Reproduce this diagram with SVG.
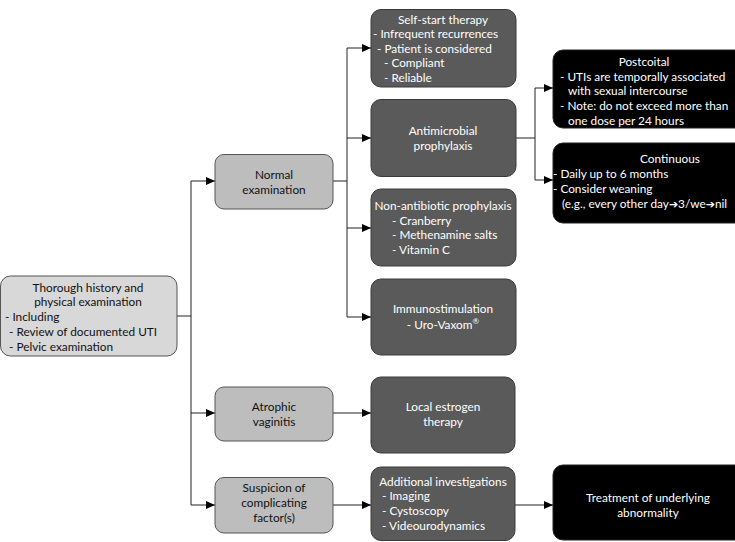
<svg xmlns="http://www.w3.org/2000/svg" width="735" height="542" viewBox="0 0 735 542">
<defs>
<marker id="ah" markerUnits="userSpaceOnUse" markerWidth="10" markerHeight="10" refX="9" refY="5" orient="auto">
<path d="M0,1 L9,5 L0,9 Z" fill="#000"/>
</marker>
<style>
text{font-family:Lato,"Open Sans","Liberation Sans",sans-serif;font-size:11.8px}
.c{text-anchor:middle}
.dk{fill:#fff}
.lt{fill:#111}
.bl{fill:#d8d8d8;stroke:#555;stroke-width:1}
.bm{fill:#bdbdbd;stroke:#555;stroke-width:1}
.bd{fill:#5a5a5a;stroke:#3a3a3a;stroke-width:1}
.bk{fill:#000;stroke:#222;stroke-width:1}
.ln{fill:none;stroke:#222;stroke-width:1}
</style>
</defs>
<g id="connectors">
<path class="ln" d="M177 316 H191 M191 181 V505"/>
<path class="ln" d="M191 181 H215" marker-end="url(#ah)"/>
<path class="ln" d="M191 413 H215" marker-end="url(#ah)"/>
<path class="ln" d="M191 505 H215" marker-end="url(#ah)"/>
<path class="ln" d="M333 181 H347 M347 48 V317"/>
<path class="ln" d="M347 48 H371" marker-end="url(#ah)"/>
<path class="ln" d="M347 138 H371" marker-end="url(#ah)"/>
<path class="ln" d="M347 228 H371" marker-end="url(#ah)"/>
<path class="ln" d="M347 317 H371" marker-end="url(#ah)"/>
<path class="ln" d="M516 138 H535 M535 88 V180"/>
<path class="ln" d="M535 88 H553" marker-end="url(#ah)"/>
<path class="ln" d="M535 180 H553" marker-end="url(#ah)"/>
<path class="ln" d="M333 413 H371" marker-end="url(#ah)"/>
<path class="ln" d="M333 505 H371" marker-end="url(#ah)"/>
<path class="ln" d="M515 505 H553" marker-end="url(#ah)"/>
</g>
<g id="root">
<rect class="bl" x="0.5" y="276" width="176.5" height="80" rx="10"/>
<text class="lt c" x="88" y="292">Thorough history and</text>
<text class="lt c" x="88" y="306">physical examination</text>
<text class="lt" x="5" y="321">- Including</text>
<text class="lt" x="9" y="336">- Review of documented UTI</text>
<text class="lt" x="9" y="351">- Pelvic examination</text>
</g>
<g id="normal">
<rect class="bm" x="215" y="154.5" width="118" height="54.5" rx="9"/>
<text class="lt c" x="274" y="179">Normal</text>
<text class="lt c" x="274" y="194">examination</text>
</g>
<g id="atrophic">
<rect class="bm" x="215" y="387" width="118" height="54" rx="9"/>
<text class="lt c" x="274" y="411">Atrophic</text>
<text class="lt c" x="274" y="426">vaginitis</text>
</g>
<g id="suspicion">
<rect class="bm" x="215" y="477.5" width="118" height="55.5" rx="9"/>
<text class="lt c" x="274" y="492">Suspicion of</text>
<text class="lt c" x="274" y="507">complicating</text>
<text class="lt c" x="274" y="522">factor(s)</text>
</g>
<g id="selfstart">
<rect class="bd" x="371" y="9.5" width="145" height="77.5" rx="10"/>
<text class="dk c" x="443" y="24">Self-start therapy</text>
<text class="dk" x="373" y="38">- Infrequent recurrences</text>
<text class="dk" x="377" y="53">- Patient is considered</text>
<text class="dk" x="384" y="67">- Compliant</text>
<text class="dk" x="384" y="82">- Reliable</text>
</g>
<g id="antimicrobial">
<rect class="bd" x="371" y="99.5" width="145" height="77" rx="10"/>
<text class="dk c" x="443" y="135">Antimicrobial</text>
<text class="dk c" x="443" y="150">prophylaxis</text>
</g>
<g id="nonantibiotic">
<rect class="bd" x="371" y="189" width="145" height="77" rx="10"/>
<text class="dk c" x="443" y="210">Non-antibiotic prophylaxis</text>
<text class="dk" x="392" y="225">- Cranberry</text>
<text class="dk" x="392" y="239">- Methenamine salts</text>
<text class="dk" x="392" y="254">- Vitamin C</text>
</g>
<g id="immuno">
<rect class="bd" x="371" y="279" width="145" height="76" rx="10"/>
<text class="dk c" x="443" y="313">Immunostimulation</text>
<text class="dk c" x="443" y="329">- Uro-Vaxom<tspan font-size="8" dy="-5">®</tspan></text>
</g>
<g id="estrogen">
<rect class="bd" x="371" y="377" width="144" height="76" rx="10"/>
<text class="dk c" x="443" y="411">Local estrogen</text>
<text class="dk c" x="443" y="426">therapy</text>
</g>
<g id="additional">
<rect class="bd" x="371" y="467" width="144" height="73.5" rx="10"/>
<text class="dk c" x="443" y="486">Additional investigations</text>
<text class="dk" x="382" y="500">- Imaging</text>
<text class="dk" x="382" y="515">- Cystoscopy</text>
<text class="dk" x="382" y="530">- Videourodynamics</text>
</g>
<g id="postcoital">
<rect class="bk" x="553" y="50" width="195" height="78" rx="10"/>
<text class="dk c" x="644" y="66">Postcoital</text>
<text class="dk" x="560" y="81">- UTIs are temporally associated</text>
<text class="dk" x="568" y="95">with sexual intercourse</text>
<text class="dk" x="560" y="110">- Note: do not exceed more than</text>
<text class="dk" x="568" y="124.5">one dose per 24 hours</text>
</g>
<g id="continuous">
<rect class="bk" x="553" y="143" width="195" height="80" rx="10"/>
<text class="dk c" x="670" y="163">Continuous</text>
<text class="dk" x="553" y="178">- Daily up to 6 months</text>
<text class="dk" x="553" y="193">- Consider weaning</text>
<text class="dk" x="562" y="208">(e.g., every other day<tspan font-family="DejaVu Sans" font-size="11">➔</tspan>3/we<tspan font-family="DejaVu Sans" font-size="11">➔</tspan>nil</text>
</g>
<g id="treatment">
<rect class="bk" x="553" y="465" width="195" height="75" rx="10"/>
<text class="dk c" x="648" y="502">Treatment of underlying</text>
<text class="dk c" x="648" y="517">abnormality</text>
</g>
</svg>
